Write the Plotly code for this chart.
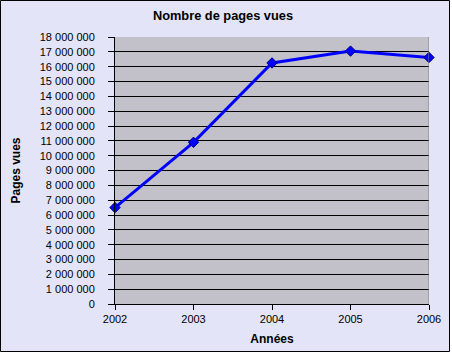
import plotly.graph_objects as go

years = [2002, 2003, 2004, 2005, 2006]
pages_vues = [6500000, 10900000, 16250000, 17050000, 16620000]
y_ticks = list(range(0, 18000001, 1000000))
y_tick_labels = ["0"] + [f"{v:,}".replace(",", " ") for v in y_ticks[1:]]

W, H = 452, 356
L, R, T, B = 115, 23, 37, 52
pw, ph = W - L - R, H - T - B

def px_x(x):
    return (x - L) / pw

def px_y(y):
    return (H - B - y) / ph

fig = go.Figure()
fig.add_trace(go.Scatter(
    x=years, y=pages_vues, mode="lines+markers",
    line=dict(color="#0000FF", width=3),
    marker=dict(symbol="diamond", size=8, color="#0000FF", line=dict(color="#000080", width=1)),
    cliponaxis=False, showlegend=False,
))

fig.add_shape(type="rect", xref="paper", yref="paper",
              x0=px_x(0.5), x1=px_x(449.5), y0=px_y(351.5), y1=px_y(0.5),
              fillcolor="#E3E4F7", line=dict(color="black", width=1), layer="below")
fig.add_shape(type="rect", xref="paper", yref="paper",
              x0=0, x1=1, y0=0, y1=1,
              fillcolor="#C2C1C9", line=dict(width=0), layer="below")

fig.update_layout(
    width=W, height=H,
    margin=dict(l=L, r=R, t=T, b=B, pad=0),
    paper_bgcolor="white",
    plot_bgcolor="rgba(0,0,0,0)",
    font=dict(family="Liberation Sans, Arial, sans-serif", size=11, color="black"),
    title=dict(text="<b>Nombre de pages vues</b>", x=223 / W, xanchor="center",
               y=1 - 16 / H, yanchor="middle", font=dict(size=12.8)),
    xaxis=dict(range=[2002, 2006], tickvals=years, ticktext=[str(y) for y in years],
               showgrid=False, zeroline=False, showline=True, linecolor="black", linewidth=1,
               ticks="outside", ticklen=5, tickcolor="black", mirror=False,
               title=dict(text="<b>Années</b>", font=dict(size=12), standoff=10)),
    yaxis=dict(range=[0, 18000000], tickvals=y_ticks, ticktext=y_tick_labels,
               showgrid=True, gridcolor="black", gridwidth=1, zeroline=False,
               showline=True, linecolor="black", linewidth=1,
               ticks="outside", ticklen=6, tickcolor="black", ticklabelstandoff=11,
               title=dict(text="<b>Pages vues</b>", font=dict(size=12), standoff=16)),
)
fig.add_shape(type="line", xref="x", yref="paper", x0=2006, x1=2006, y0=0, y1=1,
              line=dict(color="#808080", width=1))

fig.write_html("out.html")
